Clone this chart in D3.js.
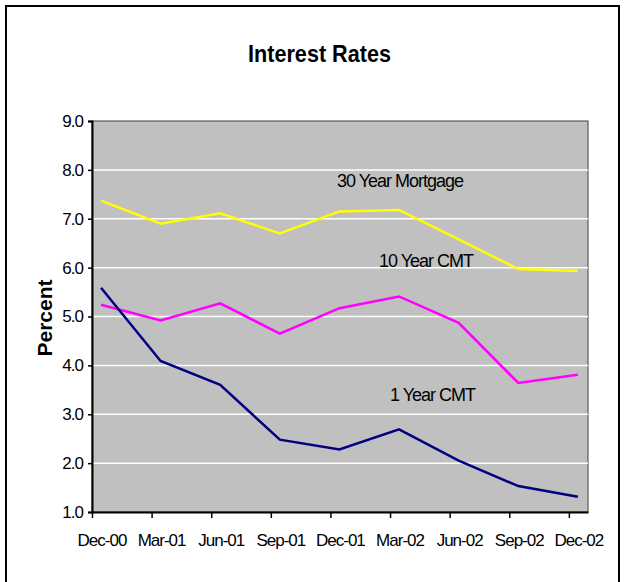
<!DOCTYPE html>
<html>
<head>
<meta charset="utf-8">
<script src="https://cdn.jsdelivr.net/npm/d3@7"></script>
<style>
  body { margin: 0; background: #fff; }
  text { font-family: "Liberation Sans", Arial, sans-serif; }
</style>
</head>
<body>
<svg width="625" height="582"></svg>
<script>
// quarters along the x axis
const quarters = ["Dec-00","Mar-01","Jun-01","Sep-01","Dec-01","Mar-02","Jun-02","Sep-02","Dec-02"];
const mortgage30 = [7.37, 6.90, 7.11, 6.70, 7.15, 7.18, 6.58, 5.97, 5.93];
const cmt10 = [5.24, 4.92, 5.27, 4.65, 5.17, 5.41, 4.87, 3.64, 3.81];
const cmt1 = [5.59, 4.09, 3.60, 2.48, 2.28, 2.69, 2.05, 1.53, 1.31];
const yTicks = [1,2,3,4,5,6,7,8,9];

const series = [
  {name: "30 Year Mortgage", values: mortgage30, color: "#ffff00", lx: 337, ly: 187},
  {name: "10 Year CMT", values: cmt10, color: "#ff00ff", lx: 379, ly: 267},
  {name: "1 Year CMT", values: cmt1, color: "#000080", lx: 390, ly: 401}
];

const svg = d3.select("svg");
const plotL = 92, plotR = 588, plotT = 121, plotB = 512;

// excel date axis: ticks fall a bit before each data point
const x = d3.scaleLinear().domain([-0.151, 8.17]).range([plotL, plotR]);
const y = d3.scaleLinear().domain([1, 9]).range([plotB, plotT]);

// outer frame
svg.append("rect")
  .attr("x", 6).attr("y", 6).attr("width", 613).attr("height", 600)
  .attr("fill", "none").attr("stroke", "#000").attr("stroke-width", 2);

svg.append("text")
  .attr("x", 248).attr("y", 62)
  .attr("font-size", 24).attr("font-weight", "bold")
  .attr("textLength", 143).attr("lengthAdjust", "spacingAndGlyphs")
  .text("Interest Rates");

// plot area
svg.append("rect")
  .attr("x", plotL).attr("y", plotT).attr("width", plotR - plotL).attr("height", plotB - plotT)
  .attr("fill", "#c0c0c0").attr("stroke", "#404040").attr("stroke-width", 1);

svg.append("g").selectAll("line").data(yTicks.slice(1, -1)).enter().append("line")
  .attr("x1", plotL).attr("x2", plotR)
  .attr("y1", d => y(d)).attr("y2", d => y(d))
  .attr("stroke", "#fff").attr("stroke-width", 1.5);

// y axis
const yAxis = svg.append("g")
  .attr("transform", "translate(" + plotL + ",0)")
  .call(d3.axisLeft(y).tickValues(yTicks).tickFormat(d3.format(".1f")).tickSize(4).tickPadding(5));
yAxis.select(".domain").attr("stroke", "#000").attr("stroke-width", 2);
yAxis.selectAll(".tick line").attr("stroke-width", 1.5);
yAxis.selectAll("text").attr("font-size", 17).attr("letter-spacing", -1).attr("fill", "#000")
  .style("font-family", "'Liberation Sans', Arial, sans-serif");

// x axis: ticks at the quarter boundaries, labels under the points
const xAxis = svg.append("g")
  .attr("transform", "translate(0," + plotB + ")")
  .call(d3.axisBottom(x).tickValues(quarters.map((q, i) => i - 0.151)).tickFormat("").tickSize(6).tickSizeOuter(0));
xAxis.select(".domain").attr("stroke", "#000").attr("stroke-width", 2);
xAxis.selectAll(".tick line").attr("stroke-width", 1.5);

svg.append("g").selectAll("text").data(quarters).enter().append("text")
  .attr("x", (d, i) => x(i) + 1).attr("y", 546)
  .attr("text-anchor", "middle")
  .attr("font-size", 17).attr("letter-spacing", -1)
  .text(d => d);

svg.append("text")
  .attr("transform", "translate(52,318) rotate(-90)")
  .attr("text-anchor", "middle")
  .attr("font-size", 21).attr("font-weight", "bold")
  .text("Percent");

const line = d3.line().x((d, i) => x(i)).y(d => y(d));

svg.append("g").selectAll("path").data(series).enter().append("path")
  .attr("d", d => line(d.values))
  .attr("fill", "none")
  .attr("stroke", d => d.color)
  .attr("stroke-width", 2.5);

svg.append("g").selectAll("text").data(series).enter().append("text")
  .attr("x", d => d.lx).attr("y", d => d.ly)
  .attr("font-size", 18).attr("letter-spacing", -1)
  .attr("fill", "#000")
  .text(d => d.name);
</script>
</body>
</html>
